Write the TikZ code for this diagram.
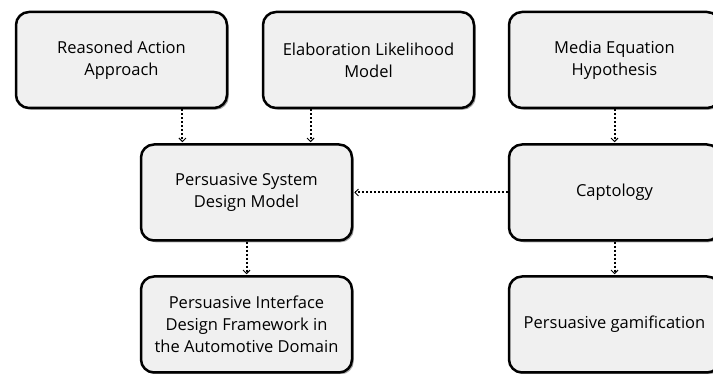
\documentclass[tikz,border=0pt]{standalone}
\usepackage{fontspec}
\setmainfont{Open Sans}
\usetikzlibrary{arrows.meta,shadows,calc}
\definecolor{boxfill}{HTML}{F0F0F0}
\tikzset{
  theory/.style={draw, line width=2.5pt, rounded corners=13pt, fill=boxfill,
    minimum width=211pt, minimum height=96pt, align=center,
    font=\fontsize{16.5}{22}\selectfont,
    drop shadow={shadow xshift=1.8pt, shadow yshift=-1.8pt, fill=black, opacity=0.35}},
  influence/.style={line width=2pt, dash pattern=on 2pt off 2pt,
    -{Straight Barb[length=3.5pt, width=7pt, line width=1pt]}, shorten >=1pt}
}
\begin{document}
\begin{tikzpicture}[x=1pt, y=-1pt]
\clip (0,0) rectangle (713,374);
\node[theory] (raa) at (121.5,60) {Reasoned Action\\Approach};
\node[theory] (elm) at (368.5,60) {Elaboration Likelihood\\Model};
\node[theory] (meh) at (614.5,60) {Media Equation\\Hypothesis};
\node[theory] (psdm) at (246.5,192.5) {Persuasive System\\Design Model};
\node[theory] (capt) at (614.5,192.5) {Captology};
\node[theory] (pidf) at (246.5,324.5) {Persuasive Interface\\Design Framework in\\the Automotive Domain};
\node[theory] (pgam) at (614.5,324.5) {Persuasive gamification};
\coordinate (in1) at ($(psdm.north west)!0.2!(psdm.north east)$);
\coordinate (in2) at ($(psdm.north west)!0.8!(psdm.north east)$);
\draw[influence] (raa.south -| in1) -- (in1);
\draw[influence] (elm.south -| in2) -- (in2);
\draw[influence] (meh) -- (capt);
\draw[influence] (capt) -- (psdm);
\draw[influence] (psdm) -- (pidf);
\draw[influence] (capt) -- (pgam);
\end{tikzpicture}
\end{document}
